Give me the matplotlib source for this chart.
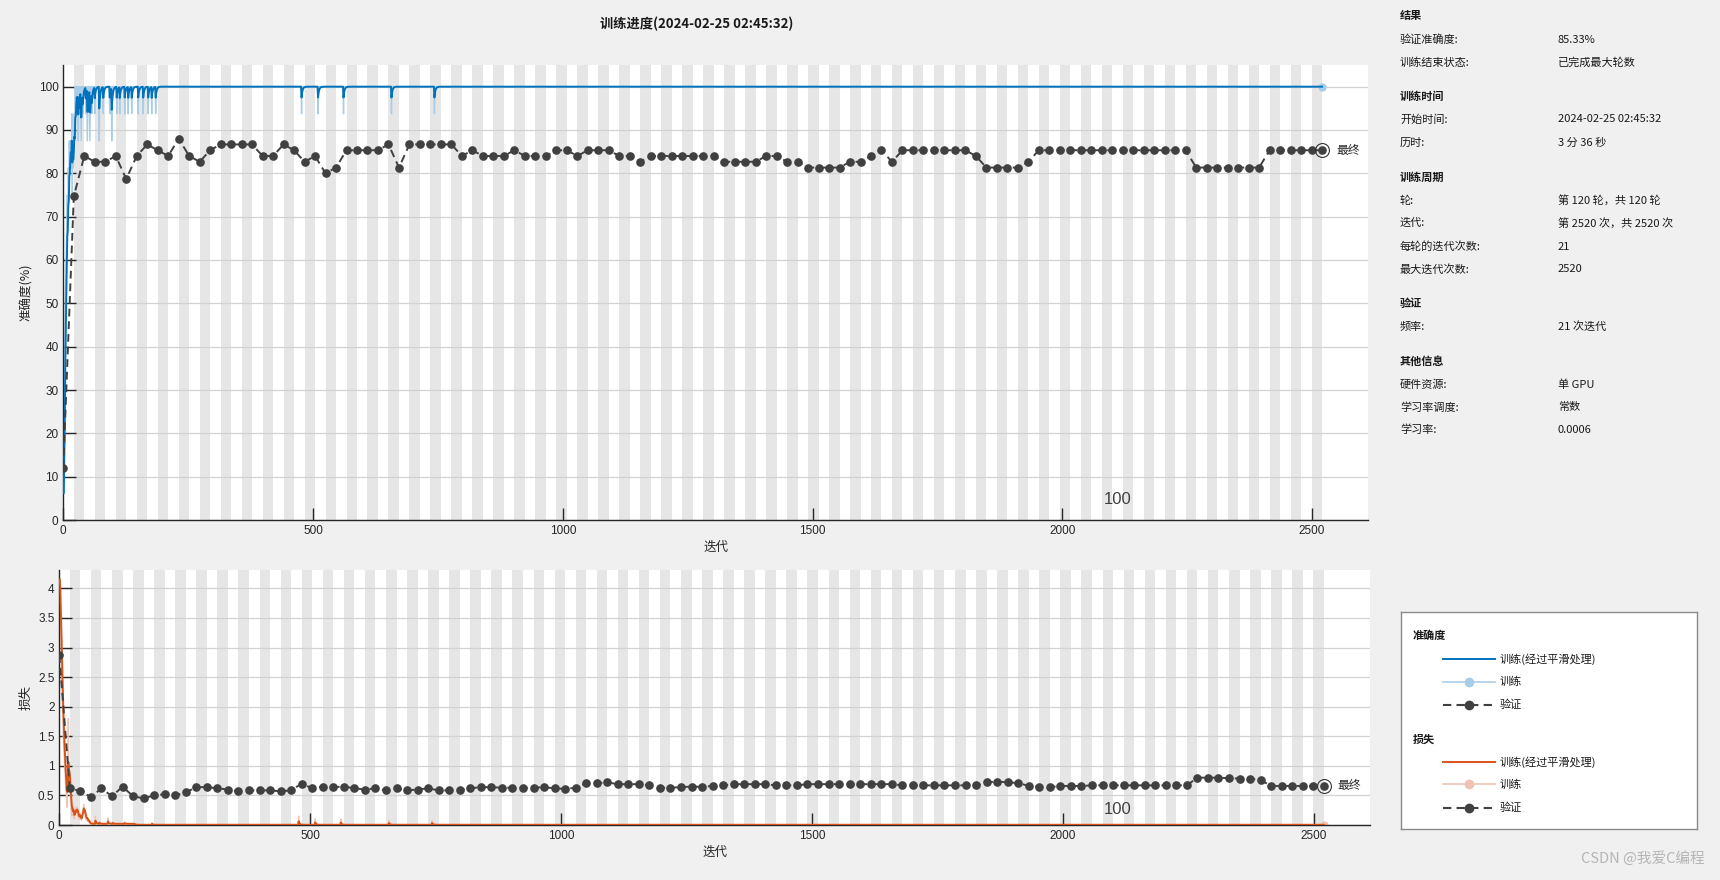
import numpy as np
import matplotlib
matplotlib.use('Agg')
import matplotlib.pyplot as plt

plt.rcParams['font.family'] = ['Liberation Sans', 'Noto Sans CJK SC', 'DejaVu Sans']
plt.rcParams['axes.unicode_minus'] = False

# ---------------- data ----------------
n_iter = 2520
iters_per_epoch = 21
n_epochs = 120
val_every = 21

# validation accuracy (%) every 21 iterations, i = 0..120
val_acc = [12.0, 74.67, 84, 82.67, 82.67, 84, 78.67, 84, 86.67, 85.33,
           84, 88, 84, 82.67, 85.33, 86.67, 86.67, 86.67, 86.67, 84,
           84, 86.67, 85.33, 82.67, 84, 80, 81.33, 85.33, 85.33, 85.33,
           85.33, 86.67, 81.33, 86.67, 86.67, 86.67, 86.67, 86.67, 84, 85.33,
           84, 84, 84, 85.33, 84, 84, 84, 85.33, 85.33, 84,
           85.33, 85.33, 85.33, 84, 84, 82.67, 84, 84, 84, 84,
           84, 84, 84, 82.67, 82.67, 82.67, 82.67, 84, 84, 82.67,
           82.67, 81.33, 81.33, 81.33, 81.33, 82.67, 82.67, 84, 85.33, 82.67,
           85.33, 85.33, 85.33, 85.33, 85.33, 85.33, 85.33, 84, 81.33, 81.33,
           81.33, 81.33, 82.67, 85.33, 85.33, 85.33, 85.33, 85.33, 85.33, 85.33,
           85.33, 85.33, 85.33, 85.33, 85.33, 85.33, 85.33, 85.33, 81.33, 81.33,
           81.33, 81.33, 81.33, 81.33, 81.33, 85.33, 85.33, 85.33, 85.33, 85.33,
           85.33]

# validation loss every 21 iterations, i = 0..120
val_loss = [2.87, 0.62, 0.575, 0.47, 0.62, 0.485, 0.65, 0.485, 0.45, 0.50,
            0.52, 0.50, 0.55, 0.64, 0.64, 0.62, 0.60, 0.57, 0.585, 0.585,
            0.585, 0.57, 0.585, 0.70, 0.62, 0.65, 0.64, 0.65, 0.62, 0.60,
            0.62, 0.585, 0.62, 0.585, 0.60, 0.62, 0.585, 0.585, 0.585, 0.62,
            0.64, 0.64, 0.63, 0.63, 0.63, 0.63, 0.64, 0.62, 0.61, 0.63,
            0.705, 0.705, 0.72, 0.69, 0.69, 0.69, 0.67, 0.63, 0.63, 0.64,
            0.65, 0.645, 0.66, 0.67, 0.69, 0.69, 0.69, 0.69, 0.67, 0.67,
            0.67, 0.69, 0.69, 0.69, 0.69, 0.69, 0.69, 0.69, 0.69, 0.69,
            0.67, 0.67, 0.67, 0.67, 0.67, 0.67, 0.67, 0.67, 0.72, 0.735,
            0.72, 0.71, 0.66, 0.645, 0.64, 0.66, 0.66, 0.66, 0.67, 0.67,
            0.67, 0.67, 0.67, 0.67, 0.67, 0.67, 0.67, 0.67, 0.80, 0.80,
            0.80, 0.79, 0.785, 0.785, 0.76, 0.66, 0.66, 0.66, 0.66, 0.66,
            0.665]

# mini-batch training accuracy, iterations 1..40
acc_early = [6.25, 18.75, 31.25, 50, 56.25, 62.5, 68.75, 75, 68.75, 81.25,
             75, 87.5, 81.25, 87.5, 87.5, 81.25, 93.75, 75, 87.5, 81.25,
             87.5, 93.75, 87.5, 100, 93.75, 100, 100, 93.75, 100, 87.5,
             100, 93.75, 100, 100, 93.75, 87.5, 100, 100, 93.75, 100]
# after iteration 40 accuracy is 100 except at these iterations
acc_dip_iters = [45, 48, 49, 53, 54, 57, 63, 72, 80, 93, 97, 107, 113, 123,
                 130, 137, 150, 160, 170, 177, 185, 477, 510, 561, 657, 743]
acc_dip_vals = [93.75, 87.5, 93.75, 87.5, 93.75, 93.75, 93.75, 87.5, 93.75,
                93.75, 87.5, 93.75, 93.75, 93.75, 93.75, 93.75, 93.75, 93.75,
                93.75, 93.75, 93.75, 93.75, 93.75, 93.75, 93.75, 93.75]
acc_plateau = 100.0

# mini-batch training loss, iterations 1..60
loss_early = [4.15, 3.9, 3.4, 2.9, 2.5, 2.1, 1.8, 1.5, 1.3, 1.1,
              0.95, 0.8, 0.65, 0.5, 0.3, 0.55, 0.6, 1.8, 0.7, 0.9,
              0.75, 0.5, 0.35, 0.25, 0.15, 0.2, 0.18, 0.3, 0.15, 0.1,
              0.2, 0.25, 0.3, 0.2, 0.25, 0.3, 0.2, 0.15, 0.1, 0.12,
              0.2, 0.15, 0.1, 0.08, 0.12, 0.2, 0.25, 0.3, 0.35, 0.2,
              0.25, 0.15, 0.1, 0.08, 0.1, 0.12, 0.06, 0.05, 0.08, 0.05]
loss_bump_iters = [72, 80, 97, 107, 130, 185, 477, 510, 561, 657, 743]
loss_bump_vals = [0.15, 0.06, 0.12, 0.05, 0.05, 0.04, 0.15, 0.1, 0.1, 0.08, 0.08]
loss_level_mid = 0.02   # iterations 61..150
loss_level_late = 0.004  # after iteration 150

title = '训练进度(2024-02-25 02:45:32)'
info = [
    ('结果', None, True),
    ('验证准确度:', '85.33%', False),
    ('训练结束状态:', '已完成最大轮数', False),
    ('训练时间', None, True),
    ('开始时间:', '2024-02-25 02:45:32', False),
    ('历时:', '3 分 36 秒', False),
    ('训练周期', None, True),
    ('轮:', '第 120 轮，共 120 轮', False),
    ('迭代:', '第 2520 次，共 2520 次', False),
    ('每轮的迭代次数:', '21', False),
    ('最大迭代次数:', '2520', False),
    ('验证', None, True),
    ('频率:', '21 次迭代', False),
    ('其他信息', None, True),
    ('硬件资源:', '单 GPU', False),
    ('学习率调度:', '常数', False),
    ('学习率:', '0.0006', False),
]
info_y = [15.7, 40, 62.7, 96.7, 119.3, 142.7, 177.3, 200.7, 223.3, 246.7,
          269.3, 303.3, 326.7, 361.7, 384.3, 407.3, 430]

# ---------------- build series ----------------
it = np.arange(1, n_iter + 1)
acc_raw = np.full(n_iter, acc_plateau)
acc_raw[:len(acc_early)] = acc_early
for k, v in zip(acc_dip_iters, acc_dip_vals):
    acc_raw[k - 1] = v

loss_raw = np.full(n_iter, loss_level_late)
loss_raw[60:150] = loss_level_mid
loss_raw[:len(loss_early)] = loss_early
for k, v in zip(loss_bump_iters, loss_bump_vals):
    loss_raw[k - 1] = v


def smooth(x, beta=0.6):
    out = np.empty_like(x, dtype=float)
    m = 0.0
    for i, v in enumerate(x):
        m = beta * m + (1 - beta) * v
        out[i] = m / (1 - beta ** (i + 1))
    return out


acc_s = smooth(acc_raw)
loss_s = smooth(loss_raw)
val_it = np.arange(len(val_acc)) * val_every

# ---------------- figure ----------------
W, H = 1720, 880
fig = plt.figure(figsize=(W / 100, H / 100), dpi=100)
fig.patch.set_facecolor('#f0f0f0')


def fx(x):
    return x / W


def fy(y):
    return 1 - y / H


C_ACC = '#0072BD'
C_ACC_L = '#a9cde8'
C_LOSS = '#D95319'
C_LOSS_L = '#efc3b3'
C_VAL = '#404040'
XMAX = 2612
cjk = ['Noto Sans CJK SC', 'DejaVu Sans']

ax1 = fig.add_axes([fx(63.3), fy(520), fx(1368 - 63.3), (520 - 65) / H])
ax2 = fig.add_axes([fx(59.3), fy(825), fx(1370 - 59.3), (825 - 570) / H])

for ax in (ax1, ax2):
    ax.set_facecolor('white')
    for e in range(1, n_epochs, 2):
        ax.axvspan(e * iters_per_epoch, (e + 1) * iters_per_epoch,
                   color='#e6e6e6', lw=0, zorder=0.2)
    ax.set_axisbelow(True)
    ax.grid(axis='y', color='#d2d2d2', lw=0.9)
    ax.spines['top'].set_visible(False)
    ax.spines['right'].set_visible(False)
    for s in ('left', 'bottom'):
        ax.spines[s].set_color('#262626')
        ax.spines[s].set_linewidth(1.0)
    ax.set_xlim(0, XMAX)
    ax.set_xticks([0, 500, 1000, 1500, 2000, 2500])
    ax.tick_params(direction='in', length=9, width=1, colors='#262626',
                   labelsize=8.5, labelcolor='#262626')
    ax.set_xlabel('迭代', fontsize=9, color='#262626', family=cjk, labelpad=3)

# accuracy plot
ax1.set_ylim(0, 105)
ax1.set_yticks(np.arange(0, 101, 10))
ax1.plot(it, acc_raw, color=C_ACC_L, lw=1.0, zorder=2)
ax1.plot([it[-1]], [acc_raw[-1]], 'o', color=C_ACC_L, ms=5, zorder=2)
ax1.plot(it, acc_s, color=C_ACC, lw=1.4, zorder=3)
ax1.plot(val_it, val_acc, '--', color=C_VAL, lw=1.4, marker='o', ms=5.2,
         dashes=(4, 2.5), zorder=4)
ax1.plot([val_it[-1]], [val_acc[-1]], 'o', mfc='none', mec='#333333',
         ms=10, mew=0.8, zorder=5)
ax1.text(val_it[-1] + 28, val_acc[-1], '最终', fontsize=8.5, va='center',
         ha='left', color='#262626', family=cjk)
ax1.text(2110, 4.8, '100', fontsize=12, color='#404040', ha='center', va='center')
ax1.set_ylabel('准确度(%)', fontsize=9, color='#262626', family=cjk)
ax1.yaxis.set_label_coords(-0.0232, 0.5)

# loss plot
ax2.set_ylim(0, 4.31)
ax2.set_yticks(np.arange(0, 4.01, 0.5))
ax2.set_yticklabels(['0', '0.5', '1', '1.5', '2', '2.5', '3', '3.5', '4'])
ax2.plot(it, loss_raw, color=C_LOSS_L, lw=1.0, zorder=2)
ax2.plot([it[-1]], [loss_raw[-1]], 'o', color=C_LOSS_L, ms=5, zorder=2)
ax2.plot(it, loss_s, color=C_LOSS, lw=1.4, zorder=3)
ax2.plot(val_it, val_loss, '--', color=C_VAL, lw=1.4, marker='o', ms=5.2,
         dashes=(4, 2.5), zorder=4)
ax2.plot([val_it[-1]], [val_loss[-1]], 'o', mfc='none', mec='#333333',
         ms=10, mew=0.8, zorder=5)
ax2.text(val_it[-1] + 28, val_loss[-1], '最终', fontsize=8.5, va='center',
         ha='left', color='#262626', family=cjk)
ax2.text(2110, 0.26, '100', fontsize=12, color='#404040', ha='center', va='center')
ax2.set_ylabel('损失', fontsize=9, color='#262626', family=cjk)
ax2.yaxis.set_label_coords(-0.0201, 0.5)

# title
fig.text(fx(697), fy(24), title, fontsize=9.5, fontweight='bold', ha='center',
         va='center', color='#1a1a1a', family=cjk)

# info panel
for (lab, val, bold), y in zip(info, info_y):
    fig.text(fx(1400), fy(y), lab, fontsize=8, va='center', ha='left',
             fontweight='bold' if bold else 'normal', color='#1a1a1a',
             family=cjk)
    if val is not None:
        fig.text(fx(1557.7), fy(y), val, fontsize=8, va='center', ha='left',
                 color='#1a1a1a', family=cjk)

# legend box
lx0, ly0, lx1, ly1 = 1400.7, 611.7, 1697.3, 829.3
lg = fig.add_axes([fx(lx0), fy(ly1), fx(lx1 - lx0), (ly1 - ly0) / H])
lg.set_xlim(lx0, lx1)
lg.set_ylim(ly1, ly0)
lg.set_xticks([])
lg.set_yticks([])
lg.set_facecolor('white')
for s in lg.spines.values():
    s.set_color('#8a8a8a')
    s.set_linewidth(1.0)
lg.text(1413, 635, '准确度', fontsize=8, fontweight='bold', va='center',
        family=cjk, color='#1a1a1a')
lg.text(1413, 739.3, '损失', fontsize=8, fontweight='bold', va='center',
        family=cjk, color='#1a1a1a')
rows = [(659.3, C_ACC, 'smooth', '训练(经过平滑处理)'),
        (681.7, C_ACC_L, 'raw', '训练'),
        (705.0, C_VAL, 'val', '验证'),
        (762.3, C_LOSS, 'smooth', '训练(经过平滑处理)'),
        (784.3, C_LOSS_L, 'raw', '训练'),
        (807.7, C_VAL, 'val', '验证')]
for y, c, kind, txt in rows:
    if kind == 'smooth':
        lg.plot([1443, 1495], [y, y], color=c, lw=1.4)
    elif kind == 'raw':
        lg.plot([1443, 1495], [y, y], color=c, lw=1.2)
        lg.plot([1469], [y], 'o', color=c, ms=6)
    else:
        lg.plot([1443, 1495], [y, y], '--', color=c, lw=1.5, dashes=(4, 2.5))
        lg.plot([1469], [y], 'o', color=c, ms=6)
    lg.text(1500, y, txt, fontsize=8, va='center', ha='left', family=cjk,
            color='#1a1a1a')

# watermark
fig.text(fx(1705), fy(858), 'CSDN @我爱C编程', fontsize=10.5, ha='right',
         va='center', color='#b5b5b5', family=cjk)

fig.savefig('out.png', dpi=100, facecolor=fig.get_facecolor())
